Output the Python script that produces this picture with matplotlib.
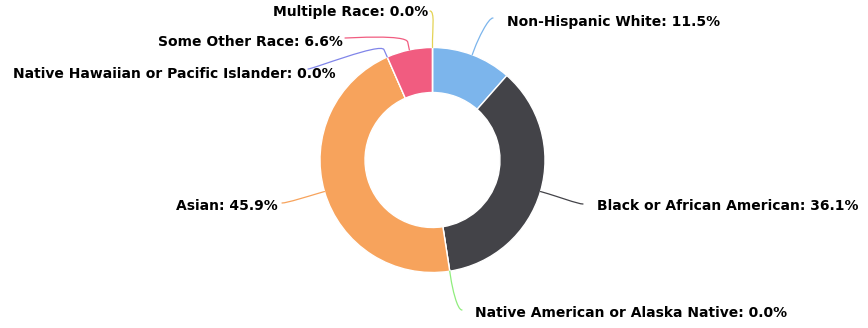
import matplotlib
matplotlib.use("Agg")
import matplotlib.pyplot as plt
from matplotlib.path import Path
from matplotlib.patches import PathPatch
import numpy as np

# Population share by race (percent)
categories = [
    "Non-Hispanic White",
    "Black or African American",
    "Native American or Alaska Native",
    "Asian",
    "Native Hawaiian or Pacific Islander",
    "Some Other Race",
    "Multiple Race",
]
values = [11.5, 36.1, 0.0, 45.9, 0.0, 6.6, 0.0]
colors = ["#7cb5ec", "#434348", "#90ed7d", "#f7a35c", "#8085e9", "#f15c80", "#e4d354"]

W, H = 868, 328
CX, CY = 432.5, 160.0       # donut centre (pixels from top-left)
R_OUT, RING = 112.5, 45.0   # outer radius and ring thickness
BREAK = 8.0                 # connector break distance outside the ring

# label anchor (end of connector) and text placement, pixels from top-left
label_layout = {
    "Non-Hispanic White":                  dict(end=(493, 18), text=(507, 22), ha="left"),
    "Black or African American":           dict(end=(583, 204), text=(597, 206), ha="left"),
    "Native American or Alaska Native":    dict(end=(462, 310), text=(475, 313), ha="left"),
    "Asian":                               dict(end=(282, 203), text=(278, 206), ha="right"),
    "Native Hawaiian or Pacific Islander": dict(end=(308, 69), text=(336, 74), ha="right"),
    "Some Other Race":                     dict(end=(345, 38), text=(343, 42), ha="right"),
    "Multiple Race":                       dict(end=(430, 11), text=(428, 12), ha="right"),
}


def Y(y):
    return H - y


fig = plt.figure(figsize=(W / 100, H / 100), dpi=100)
ax = fig.add_axes([0, 0, 1, 1])

ax.pie(
    values,
    colors=colors,
    startangle=90,
    counterclock=False,
    radius=R_OUT,
    center=(CX, Y(CY)),
    wedgeprops=dict(width=RING, edgecolor="white", linewidth=1.0),
)
ax.set_xlim(0, W)
ax.set_ylim(0, H)
ax.set_aspect("equal")
ax.axis("off")

total = sum(values)
cum = 0.0
for name, val, col in zip(categories, values, colors):
    frac_mid = (cum + val / 2.0) / total
    cum += val
    ang = 2 * np.pi * frac_mid  # clockwise from top
    dx, dy = np.sin(ang), np.cos(ang)  # y-up direction
    touch = np.array([CX + R_OUT * dx, Y(CY) + R_OUT * dy])
    brk = np.array([CX + (R_OUT + BREAK) * dx, Y(CY) + (R_OUT + BREAK) * dy])
    lay = label_layout[name]
    ex, ey = lay["end"]
    start = np.array([ex, Y(ey)])
    step = 5.0 if lay["ha"] == "right" else -5.0
    c1 = start + np.array([step, 0.0])
    c2 = 2 * brk - touch
    verts = [start, c1, c2, brk, touch]
    codes = [Path.MOVETO, Path.CURVE4, Path.CURVE4, Path.CURVE4, Path.LINETO]
    ax.add_patch(PathPatch(Path(verts, codes), facecolor="none", edgecolor=col,
                           linewidth=0.9, capstyle="round"))
    tx, ty = lay["text"]
    ax.text(tx, Y(ty), f"{name}: {val:.1f}%", ha=lay["ha"], va="center",
            fontsize=10, fontweight="bold", family="DejaVu Sans", color="#000000")

fig.savefig("out.png", dpi=100, facecolor="white")
